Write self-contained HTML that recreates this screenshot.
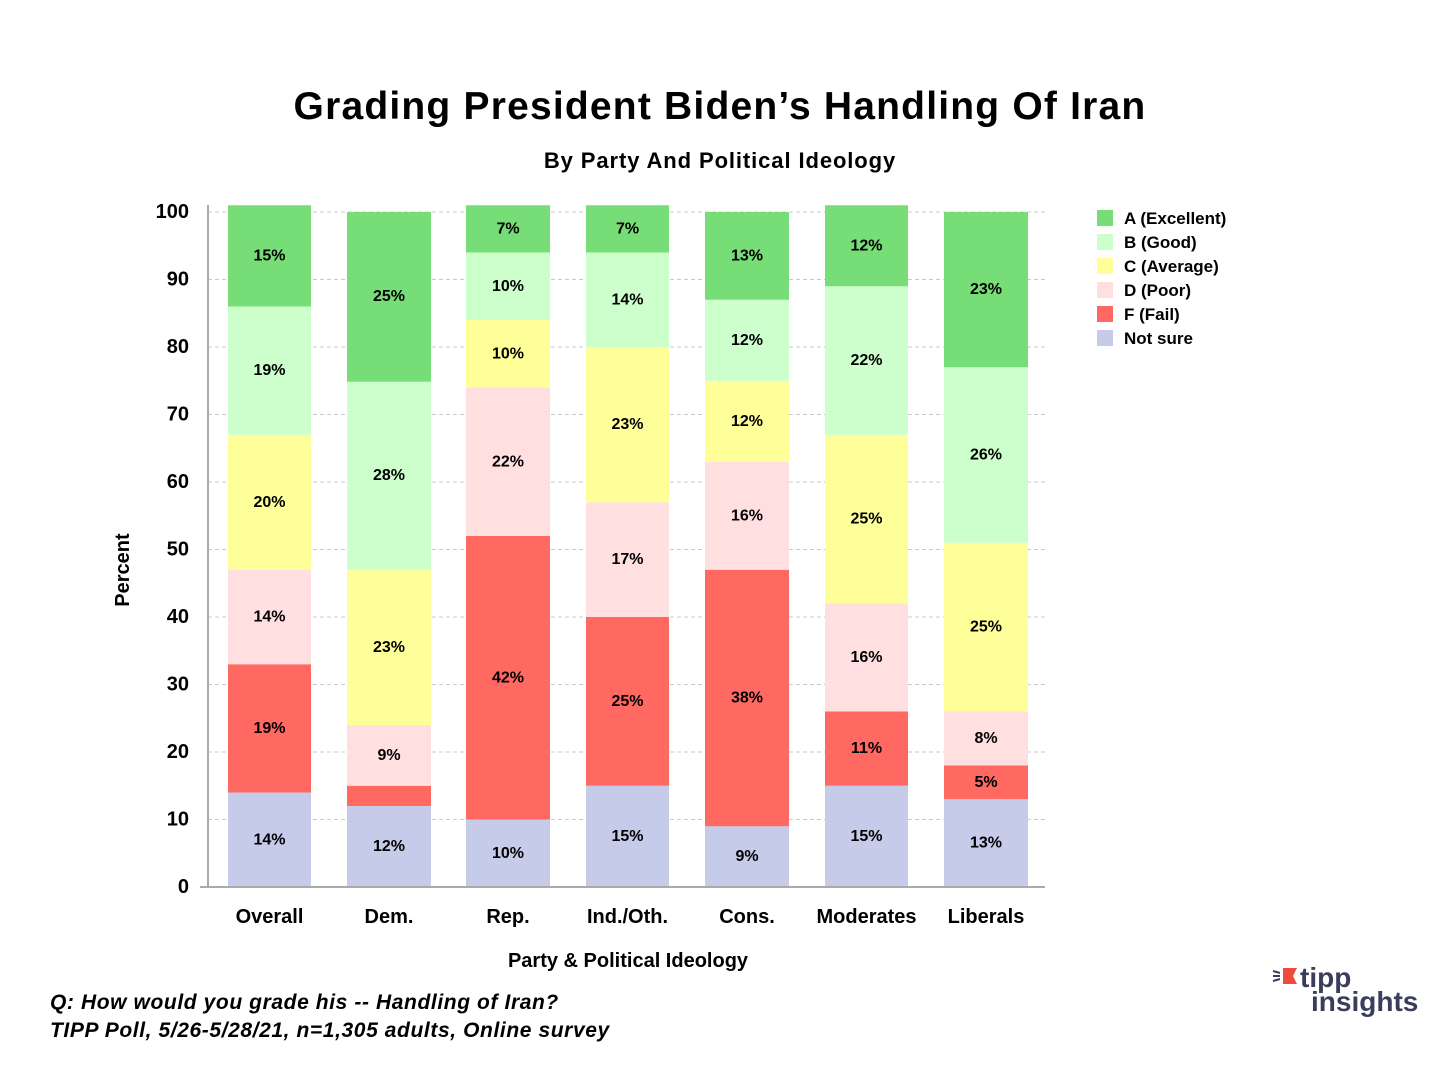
<!DOCTYPE html>
<html><head><meta charset="utf-8"><style>
body{margin:0;background:#fff}
svg text{font-family:"Liberation Sans",sans-serif}
</style></head><body>
<svg width="1440" height="1080" viewBox="0 0 1440 1080" xmlns="http://www.w3.org/2000/svg">
<text x="720" y="119" text-anchor="middle" font-size="39" font-weight="bold" letter-spacing="1.2" fill="#000">Grading President Biden’s Handling Of Iran</text>
<text x="720" y="168" text-anchor="middle" font-size="22" font-weight="bold" letter-spacing="0.9" fill="#000">By Party And Political Ideology</text>
<g stroke="#c8c8c8" stroke-dasharray="4,3" stroke-width="1">
<line x1="208" x2="1045" y1="819.5" y2="819.5"/><line x1="208" x2="1045" y1="752" y2="752"/>
<line x1="208" x2="1045" y1="684.5" y2="684.5"/><line x1="208" x2="1045" y1="617" y2="617"/>
<line x1="208" x2="1045" y1="549.5" y2="549.5"/><line x1="208" x2="1045" y1="482" y2="482"/>
<line x1="208" x2="1045" y1="414.5" y2="414.5"/><line x1="208" x2="1045" y1="347" y2="347"/>
<line x1="208" x2="1045" y1="279.5" y2="279.5"/><line x1="208" x2="1045" y1="212" y2="212"/>
</g>
<g>
<rect x="228" y="792.5" width="83" height="94.5" fill="#c5cbe8"/>
<rect x="228" y="664.25" width="83" height="128.25" fill="#ff6961"/>
<rect x="228" y="569.75" width="83" height="94.5" fill="#ffdfe0"/>
<rect x="228" y="434.75" width="83" height="135" fill="#ffff99"/>
<rect x="228" y="306.5" width="83" height="128.25" fill="#ccffcc"/>
<rect x="228" y="205.25" width="83" height="101.25" fill="#77dd77"/>
<rect x="347" y="806" width="84" height="81" fill="#c5cbe8"/>
<rect x="347" y="785.75" width="84" height="20.25" fill="#ff6961"/>
<rect x="347" y="725" width="84" height="60.75" fill="#ffdfe0"/>
<rect x="347" y="569.75" width="84" height="155.25" fill="#ffff99"/>
<rect x="347" y="381.75" width="84" height="188" fill="#ccffcc"/>
<rect x="347" y="212" width="84" height="169.75" fill="#77dd77"/>
<rect x="466" y="819.5" width="84" height="67.5" fill="#c5cbe8"/>
<rect x="466" y="536" width="84" height="283.5" fill="#ff6961"/>
<rect x="466" y="387.5" width="84" height="148.5" fill="#ffdfe0"/>
<rect x="466" y="320" width="84" height="67.5" fill="#ffff99"/>
<rect x="466" y="252.5" width="84" height="67.5" fill="#ccffcc"/>
<rect x="466" y="205.25" width="84" height="47.25" fill="#77dd77"/>
<rect x="586" y="785.75" width="83" height="101.25" fill="#c5cbe8"/>
<rect x="586" y="617" width="83" height="168.75" fill="#ff6961"/>
<rect x="586" y="502.25" width="83" height="114.75" fill="#ffdfe0"/>
<rect x="586" y="347" width="83" height="155.25" fill="#ffff99"/>
<rect x="586" y="252.5" width="83" height="94.5" fill="#ccffcc"/>
<rect x="586" y="205.25" width="83" height="47.25" fill="#77dd77"/>
<rect x="705" y="826.25" width="84" height="60.75" fill="#c5cbe8"/>
<rect x="705" y="569.75" width="84" height="256.5" fill="#ff6961"/>
<rect x="705" y="461.75" width="84" height="108" fill="#ffdfe0"/>
<rect x="705" y="380.75" width="84" height="81" fill="#ffff99"/>
<rect x="705" y="299.75" width="84" height="81" fill="#ccffcc"/>
<rect x="705" y="212" width="84" height="87.75" fill="#77dd77"/>
<rect x="825" y="785.75" width="83" height="101.25" fill="#c5cbe8"/>
<rect x="825" y="711.5" width="83" height="74.25" fill="#ff6961"/>
<rect x="825" y="603.5" width="83" height="108" fill="#ffdfe0"/>
<rect x="825" y="434.75" width="83" height="168.75" fill="#ffff99"/>
<rect x="825" y="286.25" width="83" height="148.5" fill="#ccffcc"/>
<rect x="825" y="205.25" width="83" height="81" fill="#77dd77"/>
<rect x="944" y="799.25" width="84" height="87.75" fill="#c5cbe8"/>
<rect x="944" y="765.5" width="84" height="33.75" fill="#ff6961"/>
<rect x="944" y="711.5" width="84" height="54" fill="#ffdfe0"/>
<rect x="944" y="542.75" width="84" height="168.75" fill="#ffff99"/>
<rect x="944" y="367.25" width="84" height="175.5" fill="#ccffcc"/>
<rect x="944" y="212" width="84" height="155.25" fill="#77dd77"/>
</g>
<g font-size="16" font-weight="bold" text-anchor="middle" dominant-baseline="central" fill="#000">
<text x="269.5" y="839.75">14%</text><text x="269.5" y="728.4">19%</text><text x="269.5" y="617">14%</text><text x="269.5" y="502.25">20%</text><text x="269.5" y="370.6">19%</text><text x="269.5" y="255.9">15%</text>
<text x="389" y="846.5">12%</text><text x="389" y="755.4">9%</text><text x="389" y="647.4">23%</text><text x="389" y="475.25">28%</text><text x="389" y="296.4">25%</text>
<text x="508" y="853.25">10%</text><text x="508" y="677.75">42%</text><text x="508" y="461.75">22%</text><text x="508" y="353.75">10%</text><text x="508" y="286.25">10%</text><text x="508" y="228.9">7%</text>
<text x="627.5" y="836.4">15%</text><text x="627.5" y="701.4">25%</text><text x="627.5" y="559.6">17%</text><text x="627.5" y="424.6">23%</text><text x="627.5" y="299.75">14%</text><text x="627.5" y="228.9">7%</text>
<text x="747" y="856.6">9%</text><text x="747" y="698">38%</text><text x="747" y="515.75">16%</text><text x="747" y="421.25">12%</text><text x="747" y="340.25">12%</text><text x="747" y="255.9">13%</text>
<text x="866.5" y="836.4">15%</text><text x="866.5" y="748.6">11%</text><text x="866.5" y="657.5">16%</text><text x="866.5" y="519.1">25%</text><text x="866.5" y="360.5">22%</text><text x="866.5" y="245.75">12%</text>
<text x="986" y="843">13%</text><text x="986" y="782.4">5%</text><text x="986" y="738.5">8%</text><text x="986" y="627.1">25%</text><text x="986" y="455">26%</text><text x="986" y="289.6">23%</text>
</g>
<g stroke="#aaa" stroke-width="2">
<line x1="208" y1="205" x2="208" y2="887"/>
<line x1="200" y1="887" x2="1045" y2="887"/>
</g>
<g font-size="20" font-weight="bold" text-anchor="end" dominant-baseline="central" fill="#000">
<text x="189" y="887">0</text><text x="189" y="819.5">10</text><text x="189" y="752">20</text><text x="189" y="684.5">30</text><text x="189" y="617">40</text><text x="189" y="549.5">50</text><text x="189" y="482">60</text><text x="189" y="414.5">70</text><text x="189" y="347">80</text><text x="189" y="279.5">90</text><text x="189" y="212">100</text>
</g>
<g font-size="20" font-weight="bold" text-anchor="middle" fill="#000">
<text x="269.5" y="923">Overall</text><text x="389" y="923">Dem.</text><text x="508" y="923">Rep.</text><text x="627.5" y="923">Ind./Oth.</text><text x="747" y="923">Cons.</text><text x="866.5" y="923">Moderates</text><text x="986" y="923">Liberals</text>
<text x="628" y="967">Party &amp; Political Ideology</text>
<text transform="translate(129,570) rotate(-90)">Percent</text>
</g>
<g font-size="17" font-weight="bold" fill="#000">
<rect x="1097" y="210" width="16" height="16" fill="#77dd77"/><text x="1124" y="224">A (Excellent)</text>
<rect x="1097" y="234" width="16" height="16" fill="#ccffcc"/><text x="1124" y="248">B (Good)</text>
<rect x="1097" y="258" width="16" height="16" fill="#ffff99"/><text x="1124" y="272">C (Average)</text>
<rect x="1097" y="282" width="16" height="16" fill="#ffdfe0"/><text x="1124" y="296">D (Poor)</text>
<rect x="1097" y="306" width="16" height="16" fill="#ff6961"/><text x="1124" y="320">F (Fail)</text>
<rect x="1097" y="330" width="16" height="16" fill="#c5cbe8"/><text x="1124" y="344">Not sure</text>
</g>
<g font-size="21" font-style="italic" font-weight="bold" letter-spacing="0.6" fill="#000">
<text x="50" y="1009">Q:  How would you grade his -- Handling of Iran?</text>
<text x="50" y="1037">TIPP Poll, 5/26-5/28/21, n=1,305 adults, Online survey</text>
</g>
<g>
<polygon points="1283,968 1297,968 1293,976 1297,984 1283,984" fill="#ef4b3f"/>
<g stroke="#3a3d5c" stroke-width="2"><line x1="1273" y1="971" x2="1280" y2="973"/><line x1="1273" y1="976" x2="1280" y2="976"/><line x1="1273" y1="981" x2="1280" y2="979"/></g>
<text x="1300" y="987" font-size="28" font-weight="bold" fill="#3a3d5c">tipp</text>
<text x="1311" y="1011" font-size="28" font-weight="bold" fill="#3a3d5c">insights</text>
</g>
</svg>
</body></html>
